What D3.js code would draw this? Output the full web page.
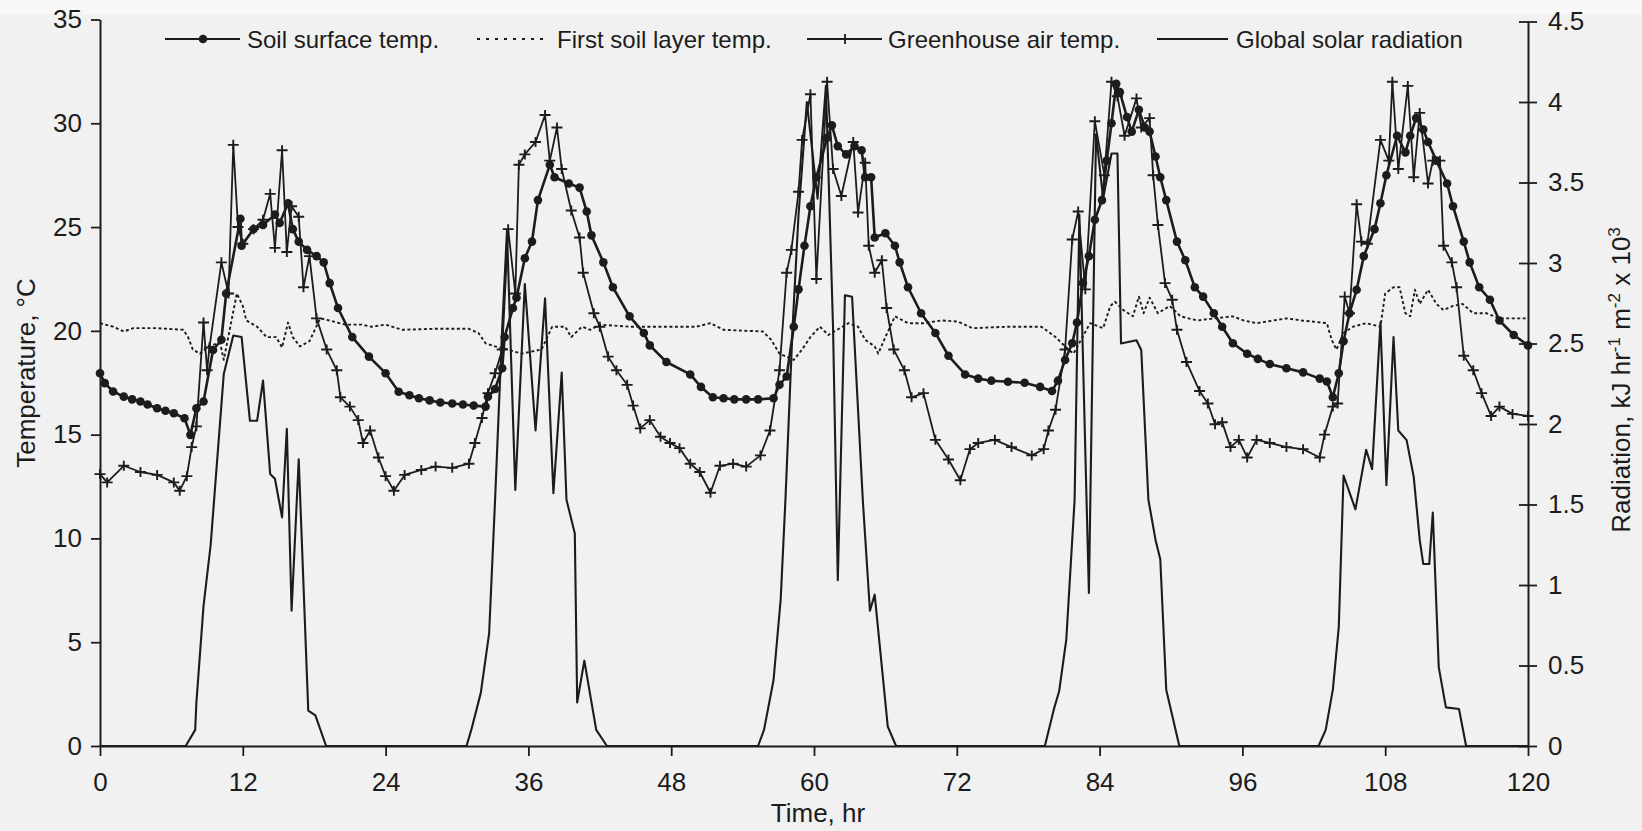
<!DOCTYPE html>
<html>
<head>
<meta charset="utf-8">
<script src="https://cdn.jsdelivr.net/npm/d3@7"></script>
<style>
  html, body { margin: 0; padding: 0; background: #f3f3f3; }
  svg { display: block; font-family: "Liberation Sans", Arial, sans-serif; }
</style>
</head>
<body>
<div id="chart"></div>
<script>
// series (time in hours)
const seriesNames = ["Soil surface temp.", "First soil layer temp.", "Greenhouse air temp.", "Global solar radiation"];

const soilHours = [
  0, 0.4, 1.1, 2.0, 2.7, 3.4, 4.0, 4.8, 5.5, 6.2,
  7.1, 7.6, 8.1, 8.7, 9.5, 10.2, 10.6, 11.8, 11.9, 12.9,
  13.7, 14.7, 15.1, 15.8, 16.2, 16.7, 17.4, 18.2, 18.8, 19.3,
  20.0, 21.2, 22.6, 24.0, 25.1, 26.0, 26.8, 27.7, 28.6, 29.6,
  30.5, 31.4, 32.4, 32.6, 33.2, 33.8, 34.0, 34.7, 35.0, 35.7,
  36.3, 36.8, 37.8, 38.2, 39.4, 40.3, 40.9, 41.3, 42.3, 43.1,
  44.5, 45.7, 46.2, 47.6, 49.6, 50.5, 51.5, 52.4, 53.3, 54.3,
  55.3, 56.6, 57.1, 57.7, 58.3, 58.7, 59.2, 59.7, 60.2, 61.1,
  61.5, 62.0, 62.7, 63.4, 64.0, 64.3, 64.8, 65.1, 66.0, 66.8,
  67.2, 67.9, 69.0, 70.2, 71.3, 72.7, 73.8, 74.9, 76.3, 77.7,
  79.0, 80.0, 80.5, 81.1, 81.7, 82.1, 82.6, 83.1, 83.6, 84.2,
  84.6, 85.0, 85.4, 85.7, 86.3, 86.7, 87.3, 87.8, 88.2, 88.7,
  89.1, 89.6, 90.5, 91.2, 92.0, 92.7, 93.6, 94.3, 95.2, 96.4,
  97.3, 98.3, 99.7, 101.1, 102.5, 103.1, 103.6, 104.1, 104.5, 105.0,
  105.6, 106.2, 107.1, 107.6, 108.1, 109.0, 109.7, 110.1, 110.6, 111.2,
  111.6, 112.3, 113.2, 113.7, 114.6, 115.1, 115.9, 116.8, 117.6, 118.8,
  120
];
const soilTemp = [
  17.96, 17.48, 17.08, 16.83, 16.7, 16.6, 16.45, 16.27, 16.15, 16.03,
  15.79, 14.99, 16.27, 16.6, 19.08, 19.57, 21.8, 25.4, 24.1, 24.9,
  25.1, 25.6, 25.2, 26.15, 24.9, 24.3, 23.9, 23.6, 23.3, 22.3,
  21.1, 19.7, 18.76, 17.96, 17.07, 16.9, 16.75, 16.65, 16.55, 16.5,
  16.45, 16.4, 16.35, 16.83, 17.2, 18.2, 19.7, 21.1, 21.6, 23.5,
  24.3, 26.3, 28.0, 27.4, 27.1, 26.9, 25.75, 24.6, 23.3, 22.1,
  20.7, 19.9, 19.3, 18.5, 17.9, 17.3, 16.8, 16.75, 16.7, 16.7,
  16.7, 16.75, 17.4, 17.8, 20.2, 22.0, 24.1, 26.0, 27.4, 29.3,
  29.9, 28.9, 28.5, 28.9, 28.7, 27.4, 27.4, 24.5, 24.7, 24.1,
  23.3, 22.1, 20.85, 19.9, 18.8, 17.9, 17.7, 17.6, 17.55, 17.5,
  17.3, 17.1, 17.6, 18.6, 19.4, 20.4, 22.3, 23.6, 25.35, 26.3,
  28.2, 30.0, 31.9, 31.5, 30.3, 29.6, 30.65, 29.8, 29.6, 28.4,
  27.4, 26.3, 24.3, 23.4, 22.1, 21.65, 20.85, 20.2, 19.4, 18.9,
  18.65, 18.4, 18.2, 18.0, 17.7, 17.56, 16.8, 17.96, 19.5, 20.85,
  21.98, 23.6, 24.9, 26.15, 27.5, 29.4, 28.6, 29.4, 30.25, 29.7,
  29.1, 28.2, 27.1, 26.0, 24.3, 23.3, 22.1, 21.5, 20.5, 19.8,
  19.3
];

const layerHours = [
  0, 1.1, 2.0, 2.8, 4.8, 7.0, 7.4, 7.8, 8.4, 9.2,
  10.1, 10.4, 11.5, 12.0, 12.3, 13.2, 14.0, 14.8, 15.3, 15.8,
  16.2, 16.8, 17.6, 18.5, 19.3, 20.6, 22.0, 22.8, 24.0, 25.4,
  28.2, 31.0, 31.8, 32.4, 33.2, 34.3, 35.4, 37.1, 38.0, 39.1,
  39.6, 40.5, 41.2, 42.0, 44.5, 47.3, 50.1, 51.3, 52.4, 55.7,
  56.4, 57.1, 58.3, 59.0, 59.7, 60.5, 61.2, 62.9, 63.7, 64.3,
  65.1, 65.4, 66.0, 66.8, 67.9, 69.2, 70.7, 72.1, 73.3, 76.3,
  79.1, 80.3, 81.1, 81.8, 83.2, 84.3, 84.9, 85.3, 86.0, 86.8,
  87.3, 87.7, 88.2, 88.9, 89.9, 90.8, 92.2, 93.6, 95.2, 96.1,
  97.2, 99.7, 101.0, 103.1, 103.5, 103.9, 104.5, 105.3, 106.4, 107.6,
  108.0, 108.7, 109.2, 109.7, 110.1, 110.5, 110.9, 111.6, 112.3, 112.9,
  113.7, 114.5, 115.4, 116.5, 117.6, 120
];
const layerTemp = [
  20.37, 20.2, 19.97, 20.13, 20.13, 20.05, 19.7, 19.1, 18.9, 19.3,
  19.4, 18.6, 21.8, 21.2, 20.5, 20.2, 19.7, 19.7, 19.2, 20.4,
  19.7, 19.25, 19.5, 20.6, 20.5, 20.3, 20.3, 20.2, 20.3, 20.05,
  20.1, 20.1, 19.9, 19.4, 19.25, 19.1, 18.9, 19.1, 20.2, 20.2,
  19.7, 20.2, 20.05, 20.3, 20.2, 20.2, 20.2, 20.37, 20.05, 19.97,
  19.57, 18.9, 18.6, 19.1, 19.7, 20.2, 19.8, 20.37, 20.2, 19.57,
  19.25, 18.9, 19.7, 20.7, 20.37, 20.37, 20.5, 20.45, 20.13, 20.2,
  20.2, 19.7, 19.25, 18.9, 20.37, 20.13, 21.2, 21.4, 21.0, 20.7,
  21.65, 20.85, 21.6, 20.85, 21.2, 20.7, 20.5, 20.6, 20.7, 20.5,
  20.37, 20.6, 20.5, 20.37, 19.57, 19.1, 19.9, 20.2, 20.37, 20.2,
  21.8, 22.1, 22.1, 20.85, 20.7, 21.98, 21.3, 21.98, 21.3, 21.0,
  21.2, 21.3, 20.85, 20.85, 20.6, 20.6
];

const airHours = [
  0, 0.6, 2.0, 3.4, 4.8, 6.2, 6.7, 7.3, 7.7, 8.1,
  8.7, 9.0, 9.2, 10.2, 10.8, 11.2, 11.6, 12.0, 12.9, 13.7,
  14.3, 14.7, 15.3, 15.7, 16.1, 16.7, 17.1, 17.6, 18.2, 19.05,
  19.9, 20.2, 21.0, 21.7, 22.1, 22.7, 23.4, 24.0, 24.7, 25.6,
  27.0, 28.2, 29.6, 31.0, 31.5, 32.1, 32.6, 33.2, 33.8, 34.3,
  34.9, 35.2, 35.7, 36.6, 37.4, 37.8, 38.4, 38.8, 39.6, 40.3,
  40.6, 41.5, 42.0, 42.7, 43.4, 44.3, 44.8, 45.4, 46.2, 47.1,
  47.9, 48.7, 49.6, 50.4, 51.3, 52.1, 53.2, 54.3, 55.5, 56.3,
  57.1, 57.7, 58.1, 58.7, 59.0, 59.7, 60.2, 61.1, 61.6, 62.3,
  63.3, 63.7, 64.3, 64.6, 65.1, 65.7, 66.1, 66.7, 67.6, 68.2,
  69.2, 70.2, 71.3, 72.3, 73.1, 73.8, 75.2, 76.6, 78.3, 79.3,
  79.7, 80.3, 81.1, 81.7, 82.2, 82.8, 83.6, 84.4, 85.0, 85.5,
  86.1, 87.1, 87.5, 88.2, 88.5, 88.9, 89.5, 90.1, 90.5, 91.3,
  92.4, 93.1, 93.7, 94.3, 95.0, 95.7, 96.4, 97.2, 98.3, 99.7,
  101.1, 102.5, 102.9, 103.6, 104.0, 104.6, 105.0, 105.6, 106.0, 106.5,
  107.6, 108.3, 108.6, 109.1, 109.9, 110.4, 110.9, 111.6, 112.0, 112.6,
  112.9, 113.6, 114.0, 114.6, 115.4, 116.1, 116.9, 117.6, 118.7, 120
];
const airTemp = [
  13.1, 12.7, 13.5, 13.2, 13.06, 12.7, 12.3, 13.0, 14.4, 15.4,
  20.4, 18.1, 19.2, 23.3, 21.8, 28.96, 25.0, 24.2, 24.9, 25.35,
  26.6, 24.0, 28.7, 23.8, 26.0, 25.5, 22.1, 23.6, 20.6, 19.1,
  18.1, 16.8, 16.35, 15.7, 14.6, 15.2, 13.9, 13.0, 12.3, 13.06,
  13.3, 13.46, 13.4, 13.6, 14.6, 15.8, 17.0, 17.96, 19.1, 24.9,
  21.8, 28.0, 28.5, 29.1, 30.4, 28.2, 29.8, 27.8, 25.8, 24.5,
  22.8, 20.85, 20.2, 18.76, 18.1, 17.4, 16.4, 15.3, 15.7, 14.9,
  14.6, 14.35, 13.6, 13.2, 12.2, 13.5, 13.6, 13.46, 14.0, 15.2,
  18.1, 22.8, 23.9, 26.7, 29.2, 31.4, 22.5, 32.0, 27.8, 26.5,
  29.1, 25.7, 28.1, 24.1, 22.8, 23.4, 21.1, 19.1, 18.1, 16.8,
  17.0, 14.75, 13.8, 12.8, 14.3, 14.6, 14.75, 14.4, 14.0, 14.3,
  15.2, 16.2, 19.1, 24.4, 25.75, 22.0, 30.1, 27.5, 32.0, 31.3,
  29.4, 31.2, 29.8, 30.25, 27.5, 25.1, 22.3, 21.5, 20.05, 18.5,
  17.1, 16.5, 15.5, 15.6, 14.4, 14.75, 13.9, 14.75, 14.6, 14.4,
  14.3, 13.9, 15.0, 16.35, 16.5, 21.65, 20.85, 26.1, 24.3, 24.2,
  29.2, 28.2, 32.0, 27.8, 31.8, 27.4, 30.5, 27.1, 28.2, 28.2,
  24.1, 23.3, 22.1, 18.8, 18.1, 17.0, 15.9, 16.35, 16.0, 15.9
];

// radiation, kJ hr-1 m-2 x 10^3 (right axis)
const radHours = [
  0, 7.2, 8.0, 8.1, 8.7, 9.3, 10.4, 11.2, 11.9, 12.6, 13.2, 13.7, 14.3, 14.7, 15.3, 15.7, 16.1, 16.7, 17.5, 18.1, 19.0,
  30.8, 31.2, 32.0, 32.7, 33.2, 33.8, 34.2, 34.9, 35.7, 36.6, 37.4, 38.1, 38.8, 39.2, 39.9, 40.1, 40.7, 41.7, 42.6,
  55.3, 55.8, 56.6, 57.2, 57.6, 58.2, 58.7, 59.4, 60.3, 61.0, 61.6, 62.0, 62.6, 63.2, 64.1, 64.7, 65.1, 66.2, 66.9,
  79.4, 80.2, 80.6, 81.2, 81.9, 82.3, 83.1, 83.7, 84.3, 85.0, 85.5, 85.8, 87.1, 87.5, 88.1, 88.7, 89.1, 89.6, 90.7,
  102.4, 103.0, 103.6, 104.1, 104.5, 105.5, 106.4, 106.9, 107.6, 108.1, 108.7, 109.1, 109.8, 110.4, 110.9, 111.2, 111.7, 112.0, 112.5, 113.1, 114.2, 114.8, 120
];
const radValues = [
  0, 0, 0.1, 0.27, 0.87, 1.25, 2.31, 2.55, 2.54, 2.02, 2.02, 2.27, 1.69, 1.66, 1.42, 1.97, 0.84, 1.78, 0.22, 0.19, 0,
  0, 0.1, 0.33, 0.7, 1.53, 2.6, 3.2, 1.59, 2.87, 1.96, 2.78, 1.57, 2.32, 1.53, 1.32, 0.27, 0.53, 0.1, 0,
  0, 0.1, 0.41, 0.91, 1.53, 2.6, 3.3, 4.0, 3.4, 4.1, 2.6, 1.03, 2.8, 2.79, 1.53, 0.84, 0.94, 0.12, 0,
  0, 0.24, 0.34, 0.66, 1.53, 3.3, 0.95, 3.8, 3.4, 3.68, 3.68, 2.5, 2.52, 2.46, 1.53, 1.28, 1.16, 0.35, 0,
  0, 0.1, 0.35, 0.74, 1.68, 1.47, 1.84, 1.72, 2.63, 1.62, 2.54, 1.96, 1.9, 1.67, 1.28, 1.13, 1.13, 1.45, 0.49, 0.24, 0.23, 0, 0
];

const timeTicks = [0, 12, 24, 36, 48, 60, 72, 84, 96, 108, 120];
const tempTicks = [0, 5, 10, 15, 20, 25, 30, 35];
const radTicks = [0, 0.5, 1, 1.5, 2, 2.5, 3, 3.5, 4, 4.5];

(function () {
  const width = 1642;
  const height = 831;
  const ink = "#1c1c1c";
  const font = "'Liberation Sans', Arial, sans-serif";

  const svg = d3.select("#chart").append("svg").attr("width", width).attr("height", height);
  svg.append("rect").attr("width", width).attr("height", height).attr("fill", "#f1f1f1");
  svg.append("rect").attr("width", width).attr("height", 14).attr("fill", "#f8f8f8");

  const x = d3.scaleLinear().domain([0, 120]).range([100, 1528]);
  const yT = d3.scaleLinear().domain([0, 35]).range([746, 19.5]);
  const yR = d3.scaleLinear().domain([0, 4.5]).range([746, 21.5]);

  const styleAxis = g => {
    g.attr("font-family", font).attr("font-size", 26);
    g.select(".domain").attr("stroke", ink).attr("stroke-width", 2);
    g.selectAll(".tick line").attr("stroke", ink).attr("stroke-width", 1.8);
    g.selectAll(".tick text").attr("fill", ink);
  };

  svg.append("g")
    .attr("transform", `translate(${x(0)},0)`)
    .call(d3.axisLeft(yT).tickValues(tempTicks).tickSize(9).tickSizeOuter(0).tickPadding(9))
    .call(styleAxis);

  const rightAxis = svg.append("g")
    .attr("transform", `translate(${x(120)},0)`)
    .call(d3.axisRight(yR).tickValues(radTicks).tickFormat(d3.format("~g")).tickSize(9).tickSizeOuter(0).tickPadding(11))
    .call(styleAxis);
  rightAxis.selectAll(".tick line").attr("x1", -9);

  svg.append("g")
    .attr("transform", `translate(0,${yT(0)})`)
    .call(d3.axisBottom(x).tickValues(timeTicks).tickSize(10).tickSizeOuter(0).tickPadding(17))
    .call(styleAxis);

  // axis titles
  svg.append("text")
    .attr("transform", `translate(35,373) rotate(-90)`)
    .attr("text-anchor", "middle")
    .attr("font-family", font).attr("font-size", 26).attr("fill", ink)
    .text("Temperature, \u00B0C");

  const radTitle = svg.append("text")
    .attr("transform", `translate(1630,380) rotate(-90)`)
    .attr("text-anchor", "middle")
    .attr("font-family", font).attr("font-size", 26).attr("fill", ink);
  radTitle.append("tspan").text("Radiation, kJ hr");
  radTitle.append("tspan").attr("dy", -10).attr("font-size", 17).text("-1");
  radTitle.append("tspan").attr("dy", 10).text(" m");
  radTitle.append("tspan").attr("dy", -10).attr("font-size", 17).text("-2");
  radTitle.append("tspan").attr("dy", 10).text(" x 10");
  radTitle.append("tspan").attr("dy", -10).attr("font-size", 17).text("3");

  svg.append("text")
    .attr("x", 818).attr("y", 822)
    .attr("text-anchor", "middle")
    .attr("font-family", font).attr("font-size", 26).attr("fill", ink)
    .text("Time, hr");

  const tempLine = d3.line().x(d => x(d[0])).y(d => yT(d[1]));
  const radLine = d3.line().x(d => x(d[0])).y(d => yR(d[1]));

  const soil = d3.zip(soilHours, soilTemp);
  const layer = d3.zip(layerHours, layerTemp);
  const air = d3.zip(airHours, airTemp);
  const rad = d3.zip(radHours, radValues);

  const plot = svg.append("g").attr("fill", "none").attr("stroke", ink).attr("stroke-linejoin", "round");

  plot.append("path").datum(rad).attr("d", radLine).attr("stroke-width", 2.1);
  plot.append("path").datum(layer).attr("d", tempLine).attr("stroke-width", 1.9).attr("stroke-dasharray", "3,2.5");
  plot.append("path").datum(air).attr("d", tempLine).attr("stroke-width", 1.8);
  plot.append("path").datum(soil).attr("d", tempLine).attr("stroke-width", 2.6);

  const plusPath = "M-5.5,0H5.5M0,-5V5";

  plot.selectAll(".airMark")
    .data(air)
    .join("path")
    .attr("class", "airMark")
    .attr("transform", d => `translate(${x(d[0])},${yT(d[1])})`)
    .attr("d", plusPath)
    .attr("stroke-width", 1.9);

  plot.selectAll(".soilMark")
    .data(soil)
    .join("circle")
    .attr("class", "soilMark")
    .attr("cx", d => x(d[0]))
    .attr("cy", d => yT(d[1]))
    .attr("r", 4.3)
    .attr("fill", ink)
    .attr("stroke", "none");

  // legend
  const legendY = 39;
  const legend = svg.append("g").attr("font-family", font).attr("font-size", 24).attr("fill", ink);
  const legendSpots = [
    { x0: 165, x1: 240, tx: 247 },
    { x0: 477, x1: 547, tx: 557 },
    { x0: 807, x1: 882, tx: 888 },
    { x0: 1157, x1: 1228, tx: 1236 },
  ];
  seriesNames.forEach((name, i) => {
    const s = legendSpots[i];
    const line = legend.append("line")
      .attr("x1", s.x0).attr("x2", s.x1).attr("y1", legendY).attr("y2", legendY)
      .attr("stroke", ink).attr("stroke-width", 2);
    if (i === 1) line.attr("stroke-dasharray", "3,6");
    if (i === 0) {
      legend.append("circle").attr("cx", 203).attr("cy", legendY).attr("r", 4.3).attr("fill", ink);
    }
    if (i === 2) {
      legend.append("path")
        .attr("transform", `translate(845,${legendY})`)
        .attr("d", plusPath).attr("stroke", ink).attr("stroke-width", 1.8);
    }
    legend.append("text").attr("x", s.tx).attr("y", legendY + 9).text(name);
  });
})();
</script>
</body>
</html>
